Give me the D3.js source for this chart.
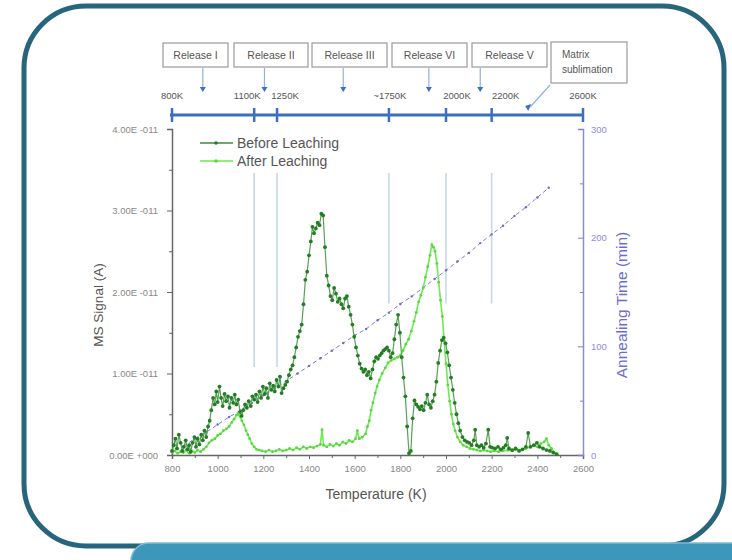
<!DOCTYPE html>
<html>
<head>
<meta charset="utf-8">
<script src="https://cdn.jsdelivr.net/npm/d3@7"></script>
<style>
  body { margin: 0; background: #fff; }
  text { font-family: "Liberation Sans", Arial, sans-serif; }
</style>
</head>
<body>
<svg id="chart" width="732" height="560"></svg>
<script>
// Before Leaching: [Temperature K, MS signal in 1e-11 A]
const beforeLeaching = [
  [800,0.05],[808,0.12],[815,0.2],[822,0.08],[830,0.25],[838,0.15],[845,0.05],[852,0.1],[860,0.18],[868,0.07],
  [875,0.12],[882,0.04],[890,0.15],[898,0.22],[905,0.1],[912,0.2],[920,0.13],[928,0.25],[935,0.18],[942,0.3],
  [950,0.22],[958,0.35],[965,0.42],[972,0.55],[980,0.7],[987,0.62],[994,0.78],[1000,0.65],[1008,0.84],[1015,0.7],
  [1022,0.6],[1030,0.75],[1037,0.66],[1045,0.72],[1052,0.58],[1060,0.7],[1068,0.64],[1075,0.74],[1082,0.62],[1090,0.68],
  [1098,0.53],[1105,0.48],[1112,0.55],[1120,0.62],[1128,0.58],[1136,0.66],[1145,0.6],[1152,0.72],[1160,0.68],[1168,0.74],
  [1175,0.65],[1183,0.78],[1190,0.7],[1198,0.84],[1206,0.75],[1213,0.82],[1220,0.7],[1228,0.88],[1235,0.8],[1243,0.85],
  [1250,0.78],[1258,0.92],[1266,0.84],[1273,0.96],[1280,0.76],[1288,0.82],[1296,0.86],[1304,0.9],[1312,0.98],[1320,1.05],
  [1328,1.1],[1336,1.2],[1344,1.32],[1352,1.45],[1360,1.52],[1368,1.6],[1376,1.85],[1384,2.15],[1392,2.25],[1400,2.45],
  [1408,2.62],[1415,2.8],[1422,2.72],[1430,2.78],[1438,2.85],[1446,2.82],[1454,2.96],[1462,2.94],[1470,2.55],[1478,2.2],
  [1486,2.08],[1494,1.95],[1502,1.9],[1510,2.05],[1518,1.98],[1526,1.88],[1534,1.92],[1542,1.85],[1550,1.8],[1558,1.92],
  [1566,1.95],[1574,1.82],[1582,1.72],[1590,1.6],[1598,1.45],[1606,1.32],[1614,1.22],[1622,1.12],[1630,1.06],[1638,1.02],
  [1646,1.05],[1654,0.98],[1662,1.02],[1670,0.94],[1678,1.05],[1686,1.15],[1694,1.2],[1702,1.18],[1710,1.22],[1718,1.25],
  [1726,1.28],[1734,1.3],[1742,1.32],[1750,1.28],[1758,1.2],[1766,1.25],[1774,1.42],[1782,1.6],[1790,1.72],[1798,1.5],
  [1806,1.2],[1814,0.95],[1822,0.72],[1830,0.35],[1838,0.02],[1846,0.05],[1854,0.45],[1862,0.67],[1870,0.62],[1878,0.59],
  [1886,0.56],[1894,0.6],[1902,0.55],[1910,0.64],[1918,0.74],[1926,0.62],[1934,0.58],[1942,0.66],[1950,0.74],[1958,0.9],
  [1966,1.13],[1974,1.28],[1982,1.41],[1990,1.44],[1998,1.37],[2006,1.26],[2014,1.1],[2022,0.95],[2030,0.8],[2038,0.64],
  [2046,0.5],[2054,0.39],[2062,0.3],[2072,0.22],[2082,0.18],[2092,0.16],[2102,0.15],[2112,0.12],[2122,0.18],[2128,0.31],
  [2135,0.12],[2145,0.1],[2155,0.12],[2165,0.09],[2175,0.14],[2185,0.31],[2193,0.1],[2202,0.09],[2215,0.08],[2228,0.1],
  [2240,0.07],[2252,0.09],[2262,0.12],[2268,0.21],[2276,0.08],[2290,0.06],[2305,0.08],[2320,0.05],[2335,0.07],[2350,0.1],
  [2360,0.27],[2370,0.1],[2385,0.12],[2398,0.15],[2410,0.1],[2425,0.08],[2440,0.06],[2455,0.05],[2470,0.03],[2485,0.01]
];

// After Leaching
const afterLeaching = [
  [800,0.03],[812,0.05],[825,0.02],[838,0.04],[850,0.03],[862,0.06],[875,0.02],[888,0.05],[900,0.03],[912,0.06],
  [925,0.04],[938,0.07],[950,0.1],[962,0.15],[975,0.18],[988,0.2],[1000,0.24],[1012,0.26],[1025,0.3],[1038,0.32],
  [1050,0.35],[1062,0.4],[1072,0.44],[1082,0.49],[1090,0.5],[1098,0.47],[1106,0.42],[1115,0.37],[1124,0.3],[1132,0.25],
  [1140,0.2],[1150,0.14],[1160,0.1],[1170,0.07],[1182,0.06],[1195,0.05],[1210,0.04],[1225,0.06],[1240,0.04],[1255,0.05],
  [1270,0.07],[1285,0.05],[1300,0.06],[1315,0.08],[1330,0.06],[1345,0.09],[1360,0.07],[1375,0.1],[1390,0.08],[1405,0.1],
  [1420,0.09],[1435,0.11],[1450,0.13],[1457,0.31],[1464,0.12],[1478,0.1],[1492,0.13],[1506,0.11],[1520,0.14],[1534,0.12],
  [1548,0.16],[1562,0.14],[1576,0.18],[1590,0.16],[1604,0.2],[1612,0.3],[1620,0.2],[1634,0.22],[1648,0.26],[1656,0.35],
  [1664,0.42],[1672,0.55],[1680,0.64],[1690,0.76],[1698,0.84],[1708,0.92],[1720,1.0],[1734,1.07],[1746,1.13],[1760,1.16],
  [1774,1.18],[1788,1.2],[1800,1.22],[1812,1.28],[1824,1.36],[1836,1.42],[1848,1.52],[1860,1.64],[1870,1.75],[1880,1.88],
  [1890,1.96],[1900,2.05],[1910,2.18],[1920,2.31],[1930,2.45],[1938,2.58],[1945,2.55],[1952,2.5],[1960,2.35],[1968,2.12],
  [1976,1.9],[1984,1.7],[1992,1.4],[2000,1.12],[2008,0.86],[2016,0.66],[2024,0.5],[2032,0.38],[2040,0.3],[2050,0.22],
  [2062,0.16],[2075,0.12],[2090,0.1],[2105,0.08],[2120,0.07],[2135,0.06],[2150,0.05],[2165,0.06],[2180,0.05],[2195,0.04],
  [2210,0.05],[2230,0.04],[2250,0.05],[2270,0.06],[2290,0.05],[2310,0.07],[2330,0.06],[2350,0.08],[2370,0.1],[2385,0.12],
  [2400,0.1],[2415,0.14],[2430,0.16],[2440,0.2],[2450,0.12],[2462,0.08],[2475,0.03],[2485,0.01]
];

// Annealing time (min) vs temperature
const annealTemp = [850,900,950,1000,1050,1100,1150,1200,1250,1300,1350,1400,1450,1500,1550,1600,1650,
  1700,1750,1800,1850,1900,1950,2000,2050,2100,2150,2200,2250,2300,2350,2400,2450];
const annealTime = [8,15,21,28,35,41,48,55,62,68,75,82,89,96,103,110,116,
  124,131,139,146,154,162,170,178,186,195,203,211,220,228,237,246];

const xTicks = [800,1000,1200,1400,1600,1800,2000,2200,2400,2600];
const yTicks = [0,1,2,3,4];
const yTickLabels = ["0.00E +000","1.00E -011","2.00E -011","3.00E -011","4.00E -011"];
const y2Ticks = [0,100,200,300];

// top release axis
const topTicks = [800,1160,1260,1750,2000,2200,2600];
const topTickLabels = ["800K","1100K","1250K","~1750K","2000K","2200K","2600K"];
const guideTemps = [1160,1260,1750,2000,2200];
const guideEnds = [1.08,1.08,1.86,1.86,1.86];
const releaseNames = ["Release I","Release II","Release III","Release VI","Release V"];
const releaseTemps = [935,1205,1550,1925,2150];
const matrixTemp = 2360;

const svg = d3.select("#chart");

// frame
svg.append("rect")
  .attr("x", 24).attr("y", 6).attr("width", 700).attr("height", 540)
  .attr("rx", 62).attr("ry", 62)
  .attr("fill", "#fff").attr("stroke", "#27657d").attr("stroke-width", 5);
svg.append("rect")
  .attr("x", 131).attr("y", 543).attr("width", 640).attr("height", 40)
  .attr("rx", 18)
  .attr("fill", "#3d97ba").attr("stroke", "#7fbad3").attr("stroke-width", 1.5);

const x = d3.scaleLinear().domain([800, 2600]).range([172, 583]);
const y = d3.scaleLinear().domain([0, 4]).range([455, 129]);
const y2 = d3.scaleLinear().domain([0, 300]).range([455, 129]);

// guide lines from top axis
svg.selectAll(".guide")
  .data(guideTemps)
  .join("line")
  .attr("x1", d => x(d)).attr("x2", d => x(d))
  .attr("y1", 173).attr("y2", (d, i) => y(guideEnds[i]))
  .attr("stroke", "#c6d6f0").attr("stroke-width", 1.6);

// bottom axis
const xAxis = svg.append("g")
  .attr("transform", "translate(0,455)")
  .call(d3.axisBottom(x).tickValues(xTicks).tickSize(4).tickPadding(6).tickFormat(d3.format("d")));
svg.append("g")
  .attr("transform", "translate(0,455)")
  .call(d3.axisBottom(x).tickValues(d3.range(900, 2600, 200)).tickSize(3).tickFormat(""))
  .call(g => g.select(".domain").remove());

// left axis
const yAxis = svg.append("g")
  .attr("transform", "translate(172,0)")
  .call(d3.axisLeft(y).tickValues(yTicks).tickSize(5).tickPadding(9).tickFormat((d, i) => yTickLabels[i]));
svg.append("g")
  .attr("transform", "translate(172,0)")
  .call(d3.axisLeft(y).tickValues([0.5,1.5,2.5,3.5]).tickSize(3).tickFormat(""))
  .call(g => g.select(".domain").remove());

[xAxis, yAxis].forEach(g => {
  g.select(".domain").attr("stroke", "#666").attr("stroke-width", 1.5);
  g.selectAll("text").attr("fill", "#888").attr("font-size", 9.5);
});
svg.selectAll(".tick line").attr("stroke", "#666");

// right axis
const y2Axis = svg.append("g")
  .attr("transform", "translate(583,0)")
  .call(d3.axisRight(y2).tickValues(y2Ticks).tickSize(-5).tickPadding(8));
svg.append("g")
  .attr("transform", "translate(583,0)")
  .call(d3.axisRight(y2).tickValues([50,150,250]).tickSize(-3).tickFormat(""))
  .call(g => g.select(".domain").remove())
  .selectAll("line").attr("stroke", "#7c7cd8");
y2Axis.select(".domain").attr("stroke", "#8a8ae0").attr("stroke-width", 1.5);
y2Axis.selectAll(".tick line").attr("stroke", "#7c7cd8");
y2Axis.selectAll("text").attr("fill", "#8c8ce2").attr("font-size", 9.5);

// annealing time line
const annealData = annealTemp.map((t, i) => [t, annealTime[i]]);
svg.append("path")
  .datum(annealData)
  .attr("fill", "none").attr("stroke", "#7b7bd6").attr("stroke-width", 1)
  .attr("stroke-dasharray", "4,3")
  .attr("d", d3.line().x(d => x(d[0])).y(d => y2(d[1])));
svg.selectAll(".annDot")
  .data(annealData)
  .join("circle")
  .attr("cx", d => x(d[0])).attr("cy", d => y2(d[1])).attr("r", 1.2)
  .attr("fill", "#6a6ad0");

// series
const line = d3.line().x(d => x(d[0])).y(d => y(d[1]));
svg.append("path").datum(afterLeaching)
  .attr("fill", "none").attr("stroke", "#6fe856").attr("stroke-width", 1.6)
  .attr("d", line);
svg.selectAll(".aDot").data(afterLeaching).join("circle")
  .attr("cx", d => x(d[0])).attr("cy", d => y(d[1])).attr("r", 1.4)
  .attr("fill", "#58d83e");
svg.append("path").datum(beforeLeaching)
  .attr("fill", "none").attr("stroke", "#5a9e5a").attr("stroke-width", 1.2)
  .attr("d", line);
svg.selectAll(".bDot").data(beforeLeaching).join("circle")
  .attr("cx", d => x(d[0])).attr("cy", d => y(d[1])).attr("r", 1.9)
  .attr("fill", "#237d23");

// legend
const legend = svg.append("g").attr("transform", "translate(200,143)");
[["Before Leaching", "#3b8a3b", "#237d23"], ["After Leaching", "#6fe856", "#58d83e"]].forEach((s, i) => {
  legend.append("line").attr("x1", 0).attr("x2", 33).attr("y1", i * 18).attr("y2", i * 18)
    .attr("stroke", s[1]).attr("stroke-width", 1.5);
  legend.append("circle").attr("cx", 16).attr("cy", i * 18).attr("r", 1.8).attr("fill", s[2]);
  legend.append("text").attr("x", 37).attr("y", i * 18 + 5)
    .attr("font-size", 14).attr("fill", "#555").text(s[0]);
});

// axis titles
svg.append("text").attr("x", 376).attr("y", 499).attr("text-anchor", "middle")
  .attr("font-size", 14).attr("fill", "#555").text("Temperature (K)");
svg.append("text").attr("transform", "translate(103,305) rotate(-90)").attr("text-anchor", "middle")
  .attr("font-size", 13.5).attr("fill", "#555").text("MS Signal (A)");
svg.append("text").attr("transform", "translate(627,305) rotate(-90)").attr("text-anchor", "middle")
  .attr("font-size", 15.5).attr("fill", "#6b6bd4").text("Annealing Time (min)");

// top release axis
const topY = 115;
svg.append("line").attr("x1", x(800) - 2).attr("x2", x(2600)).attr("y1", topY).attr("y2", topY)
  .attr("stroke", "#3a6fc6").attr("stroke-width", 3);
svg.selectAll(".topTick").data(topTicks).join("line")
  .attr("x1", d => x(d)).attr("x2", d => x(d))
  .attr("y1", topY - 7).attr("y2", topY + 7)
  .attr("stroke", "#3a6fc6").attr("stroke-width", 2.5);
const topLabelDx = [0, -7, 8, 1, 11, 14, 0];
svg.selectAll(".topLabel").data(topTickLabels).join("text")
  .attr("x", (d, i) => x(topTicks[i]) + topLabelDx[i]).attr("y", 99)
  .attr("text-anchor", "middle").attr("font-size", 9.5).attr("fill", "#555")
  .text(d => d);

// release boxes
const boxX = [163, 234, 312, 392, 472];
const boxW = [65, 74, 75, 75, 75];
const boxes = svg.selectAll(".rel").data(releaseNames).join("g");
boxes.append("rect")
  .attr("x", (d, i) => boxX[i]).attr("y", 43).attr("width", (d, i) => boxW[i]).attr("height", 24)
  .attr("fill", "#fff").attr("stroke", "#9a9a9a").attr("stroke-width", 1.2);
boxes.append("text")
  .attr("x", (d, i) => boxX[i] + boxW[i] / 2).attr("y", 59)
  .attr("text-anchor", "middle").attr("font-size", 10.5).attr("fill", "#555")
  .text(d => d);
boxes.append("line")
  .attr("x1", (d, i) => x(releaseTemps[i])).attr("x2", (d, i) => x(releaseTemps[i]))
  .attr("y1", 68).attr("y2", 88)
  .attr("stroke", "#8fb2e4").attr("stroke-width", 1.2);
boxes.append("path")
  .attr("d", (d, i) => { const cx = x(releaseTemps[i]); return `M${cx - 3},87 L${cx + 3},87 L${cx},92 Z`; })
  .attr("fill", "#3a6fc6");

// matrix sublimation box
svg.append("rect").attr("x", 551).attr("y", 42).attr("width", 76).attr("height", 41)
  .attr("fill", "#fff").attr("stroke", "#9a9a9a").attr("stroke-width", 1.2);
svg.append("text").attr("x", 562).attr("y", 58).attr("font-size", 10).attr("fill", "#555").text("Matrix");
svg.append("text").attr("x", 562).attr("y", 73).attr("font-size", 10).attr("fill", "#555").text("sublimation");
const mx = x(matrixTemp);
svg.append("line").attr("x1", 550).attr("y1", 85).attr("x2", mx + 2).attr("y2", 107)
  .attr("stroke", "#8fb2e4").attr("stroke-width", 1.2);
svg.append("path").attr("d", `M${mx - 3},106 L${mx + 3},104 L${mx},111 Z`).attr("fill", "#3a6fc6");
</script>
</body>
</html>
